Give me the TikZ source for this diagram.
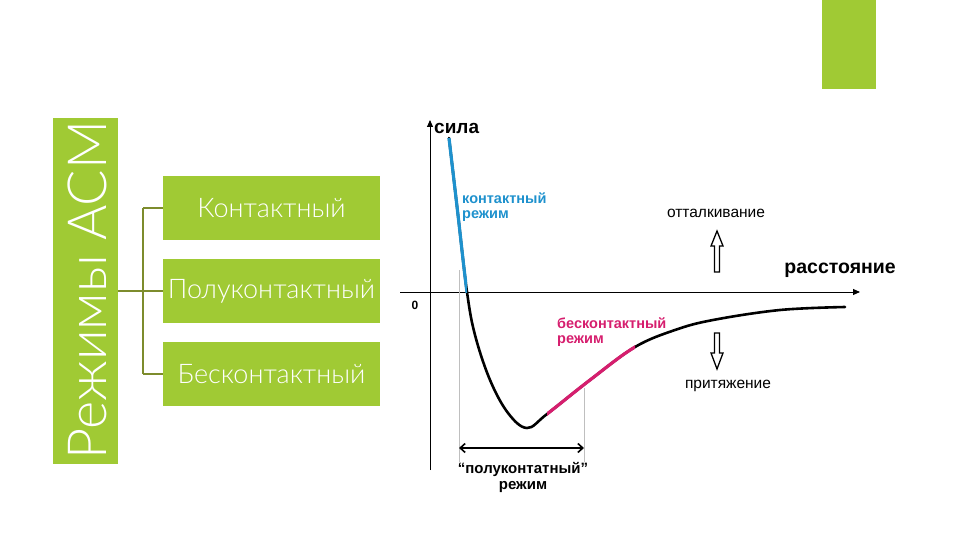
\documentclass[tikz,border=0pt]{standalone}
\usepackage{fontspec}
\setmainfont{Liberation Sans}
\newfontfamily\thinfont{Lato}[UprightFont=* Light]
\usetikzlibrary{arrows.meta}
\definecolor{lime}{RGB}{160,202,52}
\definecolor{treeline}{RGB}{125,140,45}
\definecolor{cblue}{RGB}{30,145,205}
\definecolor{cpink}{RGB}{214,30,110}
\tikzset{
  modebox/.style={fill=lime, minimum width=217pt, minimum height=64pt, inner sep=0pt, text=white, font=\thinfont\fontsize{27}{27}\selectfont},
  tree/.style={draw=treeline, line width=2pt},
  axis/.style={draw=black, line width=0.9pt},
  guide/.style={draw=black!25, line width=0.6pt},
  curve/.style={line width=2.6pt, line cap=round, line join=round},
  overlay curve/.style={line width=3.2pt, line cap=butt, line join=round},
  lbl/.style={inner sep=0pt, font=\fontsize{13}{15}\selectfont},
  hollow/.style={draw=black, line width=1.3pt, fill=white, line join=miter}
}
\newcommand\forcecurve{plot[smooth, tension=0.6] coordinates {(449,138) (458,215) (467,292) (475,335) (490,380) (508,413) (527,428) (547,414) (590,380) (635,347) (675,330) (713,320) (780,310) (845,307)}}
\begin{document}
\begin{tikzpicture}[x=1pt,y=-1pt]
\useasboundingbox (0,0) rectangle (960,540);
% decorative top-right bar
\fill[lime] (822,0) rectangle (876,89);
% title bar
\node[fill=lime, minimum width=65pt, minimum height=346pt, inner sep=0pt] (title) at (85.5,291) {};
\node[rotate=90, text=white, inner sep=0pt, font=\thinfont\fontsize{54}{54}\selectfont] (titletext) at (87,290) {Режимы ACM};
% boxes
\node[modebox] (b1) at (271.5,208) {Контактный};
\node[modebox] (b2) at (271.5,291) {Полуконтактный};
\node[modebox] (b3) at (271.5,374) {Бесконтактный};
% tree connectors
\coordinate (j) at (143,291);
\draw[tree] (title.east |- j) -- (b2.west);
\draw[tree] (j |- b1.west) -- (j |- b3.west);
\draw[tree] (j |- b1.west) -- (b1.west);
\draw[tree] (j |- b3.west) -- (b3.west);
% axes
\coordinate (yb) at (430,470);
\coordinate (yt) at (430,120);
\coordinate (xl) at (400,292);
\coordinate (xr) at (860,292);
\draw[axis, -{Triangle[length=7pt,width=6pt]}] (yb) -- (yt);
\draw[axis, -{Triangle[length=7pt,width=6pt]}] (xl) -- (xr);
% guides
\coordinate (g1t) at (459,270);
\coordinate (g1b) at (459,462);
\coordinate (g2t) at (584,388);
\coordinate (g2b) at (584,462);
\draw[guide] (g1t) -- (g1b);
\draw[guide] (g2t) -- (g2b);
% curve
\draw[curve, black] \forcecurve;
\begin{scope}
  \clip (300,137) rectangle (467,292);
  \draw[overlay curve, cblue] \forcecurve;
\end{scope}
\begin{scope}
  \clip (547,300) rectangle (635,440);
  \draw[overlay curve, cpink] \forcecurve;
\end{scope}
% labels
\node[lbl, font=\bfseries\fontsize{19}{19}\selectfont, anchor=west] (sila) at (434,128) {сила};
\node[lbl, font=\bfseries\fontsize{19.5}{19}\selectfont, anchor=east] (rast) at (896,270) {расстояние};
\node[lbl, font=\bfseries\fontsize{12}{12}\selectfont] (zero) at (415,305) {0};
\node[lbl, font=\bfseries\fontsize{14.5}{15}\selectfont, text=cblue, anchor=north west, align=left] (kont) at (462,193) {контактный\\режим};
\node[lbl, font=\bfseries\fontsize{14.5}{15}\selectfont, text=cpink, anchor=north west, align=left] (beskont) at (557,318) {бесконтактный\\режим};
\node[lbl, font=\fontsize{15.5}{15}\selectfont] (ott) at (716,213) {отталкивание};
\node[lbl, font=\fontsize{15.5}{15}\selectfont] (prit) at (728,386) {притяжение};
\node[lbl, font=\bfseries\fontsize{15}{16.5}\selectfont, align=center, anchor=north] (polu) at (523,462) {“полуконтатный”\\режим};
% double arrow
\draw[line width=1.6pt, {Straight Barb[length=5pt,width=9pt]}-{Straight Barb[length=5pt,width=9pt]}] (g1b |- 0,448) -- (g2b |- 0,448);
% hollow arrows
\draw[hollow] (717,231) -- (723,246) -- (719.5,246) -- (719.5,272) -- (714.5,272) -- (714.5,246) -- (711,246) -- cycle;
\draw[hollow] (717,369) -- (723,353) -- (719.5,353) -- (719.5,333) -- (714.5,333) -- (714.5,353) -- (711,353) -- cycle;
\end{tikzpicture}
\end{document}
